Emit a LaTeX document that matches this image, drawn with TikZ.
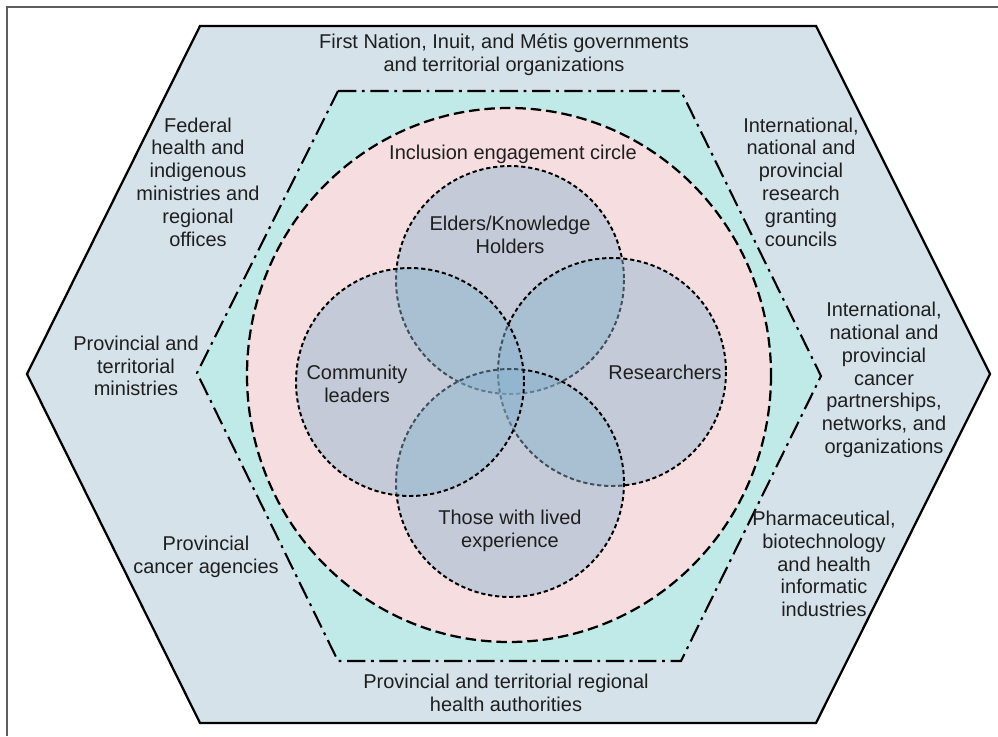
\documentclass[tikz,border=0pt]{standalone}
\usepackage{fontspec}
\setmainfont{Liberation Sans}

\definecolor{outerblue}{RGB}{213,226,234}
\definecolor{innerteal}{RGB}{191,234,232}
\definecolor{circlepink}{RGB}{246,221,224}
\definecolor{vennblue}{RGB}{137,179,206}
\definecolor{framegray}{RGB}{95,95,95}

\tikzset{
  lab/.style={align=center, inner sep=0pt, text=black!88,
    font=\fontsize{14.2}{16.2}\selectfont},
  dashdotline/.style={line width=1.5pt, dash pattern=on 13pt off 4pt on 2pt off 4pt},
  dashline/.style={line width=1.6pt, dash pattern=on 7.5pt off 3.5pt},
  dotline/.style={line width=1.4pt, dash pattern=on 3pt off 2pt}
}

\begin{document}
\begin{tikzpicture}[x=0.025cm,y=-0.025cm]
            \useasboundingbox (0,0) rectangle (998,736);

            % Frame of the figure
            \draw [framegray, line width=1pt] (7,736) -- (7,7) -- (998,7);

            % Outer hexagon and dash-dot hexagon
            \draw [fill=outerblue, line width=1.6pt] (200,26) -- (816,26) -- (990,374)
              -- (816,723) -- (200,723) -- (27,374) -- cycle;
            \draw [fill=innerteal, dashdotline] (338,91) -- (681,91) -- (821,376)
              -- (681,661) -- (338,661) -- (197,373) -- cycle;

            % Inclusion engagement circle
            \draw [fill=circlepink, dashline] (509,375) ellipse (262 and 267);

            % Venn circles, each fill laid over the earlier outlines
            \foreach \cx/\cy in {510/280, 612/372, 510/483, 410/382} {
                \fill [vennblue, fill opacity=0.45] (\cx,\cy) circle (114);
                \draw [dotline] (\cx,\cy) circle (114);
            }

            % Labels in the outer hexagon
            \node [lab] (firstnation) at (504,55) {First Nation, Inuit, and M\'etis governments\\and territorial organizations};
            \node [lab] (federal) at (198,182) {Federal\\health and\\indigenous\\ministries and\\regional\\offices};
            \node [lab] (provministries) at (136,366) {Provincial and\\territorial\\ministries};
            \node [lab] (provcancer) at (206,557) {Provincial\\cancer agencies};
            \node [lab] (healthauth) at (506,693) {Provincial and territorial regional\\health authorities};
            \node [lab] (research) at (801,182) {International,\\national and\\provincial\\research\\granting\\councils};
            \node [lab] (partnerships) at (884,380) {International,\\national and\\provincial\\cancer\\partnerships,\\networks, and\\organizations};
            \node [lab] (industries) at (824,564) {Pharmaceutical,\\biotechnology\\and health\\informatic\\industries};

            % Labels inside the circles
            \node [lab] (inclusion) at (513,154) {Inclusion engagement circle};
            \node [lab] (elders) at (510,235) {Elders/Knowledge\\Holders};
            \node [lab] (community) at (357,384) {Community\\leaders};
            \node [lab] (researchers) at (665,372) {Researchers};
            \node [lab] (lived) at (510,531) {Those with lived\\experience};
\end{tikzpicture}
\end{document}
